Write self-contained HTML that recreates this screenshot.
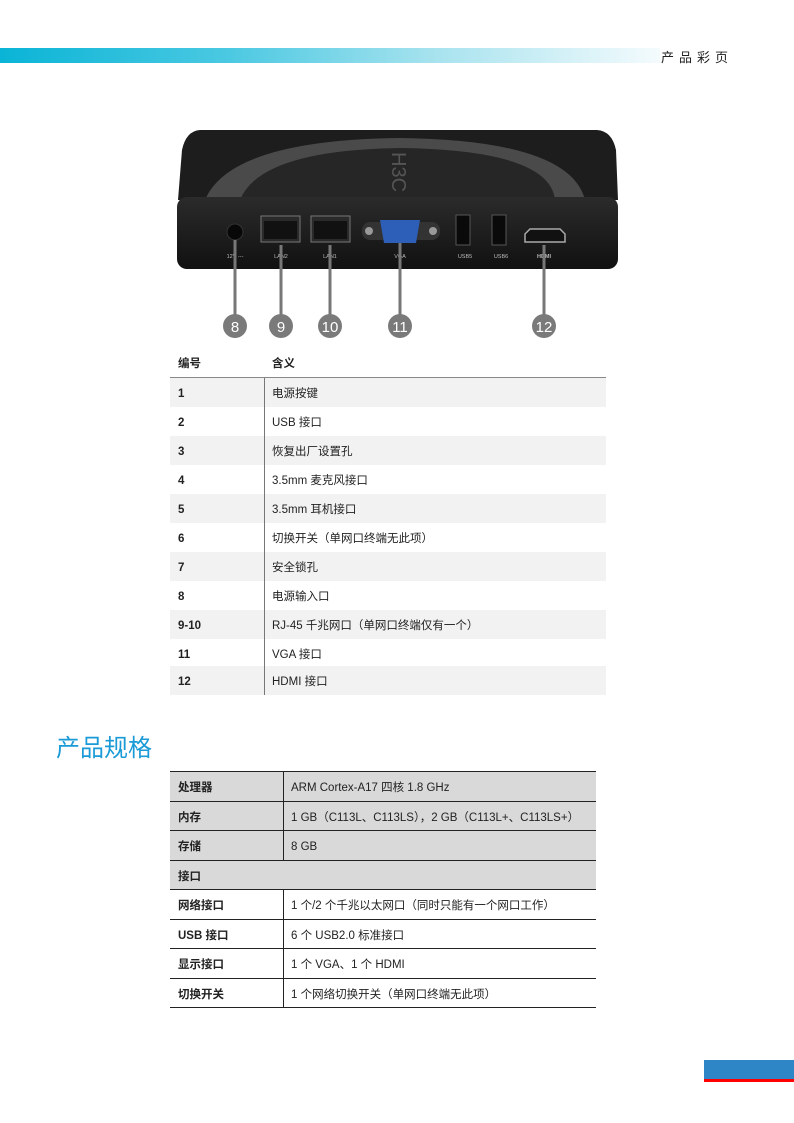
<!DOCTYPE html>
<html><head><meta charset="utf-8"><style>
*{margin:0;padding:0;box-sizing:border-box}
body{width:794px;height:1123px;position:relative;background:#fff;font-family:"Liberation Sans","Noto Sans CJK SC",sans-serif;color:#222;overflow:hidden}
.bar{position:absolute;left:0;top:48px;width:660px;height:15px;background:linear-gradient(90deg,#0ab4d6 0%,#4cc9e2 35%,#a5e2ee 65%,#f4fbfd 100%)}
.hdr{position:absolute;left:661px;top:47px;font-size:13px;letter-spacing:5px;color:#222}
.t1{position:absolute;left:170px;top:352px;width:436px}
.r{position:absolute;left:0;width:436px;height:29px;font-size:11.5px;line-height:32px}
.r .a{position:absolute;left:8px;font-weight:bold}
.r .b{position:absolute;left:102px}
.sh{background:#f2f2f2}
.title{position:absolute;left:56px;top:728px;font-size:24px;color:#1a9ad6}
.t2{position:absolute;left:170px;top:771px;width:426px;border-top:1px solid #222}
.q{position:relative;height:29.5px;border-bottom:1px solid #222;font-size:11.5px;line-height:32px}
.q .a{position:absolute;left:8px;font-weight:bold}
.q .b{position:absolute;left:121px}
.q .d{position:absolute;left:113px;top:0;bottom:0;border-left:1px solid #222}
.g{background:#d9d9d9}
</style></head><body>
<div class="bar"></div>
<div class="hdr">产品彩页</div>

<svg style="position:absolute;left:0;top:0" width="794" height="345">
<defs><linearGradient id="fr" x1="0" y1="0" x2="0" y2="1"><stop offset="0" stop-color="#2b2b2b"/><stop offset="1" stop-color="#111"/></linearGradient></defs>
<path d="M200 130 L597 130 Q612 131 616 150 L618 200 L178 200 L182 150 Q186 131 200 130Z" fill="#1d1d1d"/>
<path d="M205 200 Q230 140 400 138 Q570 140 585 200 Z" fill="#4a4a4a"/>
<path d="M240 200 Q260 150 400 148 Q550 150 555 200 Z" fill="#262626"/>
<text x="0" y="0" fill="#555" font-size="20" transform="translate(392 152) rotate(90)" font-family="Liberation Sans">H3C</text>
<rect x="177" y="197" width="441" height="72" rx="10" fill="url(#fr)"/>
<circle cx="235" cy="232" r="8" fill="#080808" stroke="#333"/>
<rect x="261" y="216" width="39" height="26" fill="#2a2a2a" stroke="#777"/>
<rect x="264" y="221" width="33" height="18" fill="#111"/>
<rect x="311" y="216" width="39" height="26" fill="#2a2a2a" stroke="#777"/>
<rect x="314" y="221" width="33" height="18" fill="#111"/>
<rect x="362" y="222" width="78" height="18" rx="8" fill="#333"/>
<circle cx="369" cy="231" r="4" fill="#999"/><circle cx="433" cy="231" r="4" fill="#999"/>
<path d="M380 220 L420 220 L416 243 L384 243Z" fill="#2d5fb8"/>
<rect x="456" y="215" width="14" height="30" fill="#0a0a0a" stroke="#555"/>
<rect x="492" y="215" width="14" height="30" fill="#0a0a0a" stroke="#555"/>
<path d="M525 234 L530 229 L560 229 L565 234 L565 242 L525 242Z" fill="#111" stroke="#aaa" stroke-width="1.5"/>
<g fill="#bbb" font-size="5.5" font-family="Liberation Sans" text-anchor="middle">
<text x="235" y="258">12V ---</text><text x="281" y="258">LAN2</text><text x="330" y="258">LAN1</text><text x="400" y="258">VGA</text><text x="465" y="258">USB5</text><text x="501" y="258">USB6</text><text x="544" y="258" font-weight="bold">HDMI</text></g>
<g stroke="#777" stroke-width="3">
<line x1="235" y1="240" x2="235" y2="320"/><line x1="281" y1="245" x2="281" y2="320"/><line x1="330" y1="245" x2="330" y2="320"/><line x1="400" y1="243" x2="400" y2="320"/><line x1="544" y1="245" x2="544" y2="320"/></g>
<g fill="#7a7a7a"><circle cx="235" cy="326" r="12"/><circle cx="281" cy="326" r="12"/><circle cx="330" cy="326" r="12"/><circle cx="400" cy="326" r="12"/><circle cx="544" cy="326" r="12"/></g>
<g fill="#fff" font-size="15" font-family="Liberation Sans" text-anchor="middle">
<text x="235" y="332">8</text><text x="281" y="332">9</text><text x="330" y="332">10</text><text x="400" y="332">11</text><text x="544" y="332">12</text></g>
</svg>

<div class="t1">
<div class="r" style="top:0;height:25px;line-height:25px"><span class="a">编号</span><span class="b" style="font-weight:bold">含义</span></div>
<div style="position:absolute;left:0;top:25px;width:436px;border-top:1.5px solid #888"></div>
<div class="r sh" style="top:26px"><span class="a">1</span><span class="b">电源按键</span></div>
<div class="r" style="top:55px"><span class="a">2</span><span class="b">USB 接口</span></div>
<div class="r sh" style="top:84px"><span class="a">3</span><span class="b">恢复出厂设置孔</span></div>
<div class="r" style="top:113px"><span class="a">4</span><span class="b">3.5mm 麦克风接口</span></div>
<div class="r sh" style="top:142px"><span class="a">5</span><span class="b">3.5mm 耳机接口</span></div>
<div class="r" style="top:171px"><span class="a">6</span><span class="b">切换开关（单网口终端无此项）</span></div>
<div class="r sh" style="top:200px"><span class="a">7</span><span class="b">安全锁孔</span></div>
<div class="r" style="top:229px"><span class="a">8</span><span class="b">电源输入口</span></div>
<div class="r sh" style="top:258px"><span class="a">9-10</span><span class="b">RJ-45 千兆网口（单网口终端仅有一个）</span></div>
<div class="r" style="top:287px"><span class="a">11</span><span class="b">VGA 接口</span></div>
<div class="r sh" style="top:314px"><span class="a">12</span><span class="b">HDMI 接口</span></div>
<div style="position:absolute;left:94px;top:26px;height:317px;border-left:1.5px solid #777"></div>
</div>

<div class="title">产品规格</div>

<div class="t2">
<div class="q g"><span class="d"></span><span class="a">处理器</span><span class="b">ARM Cortex-A17 四核 1.8 GHz</span></div>
<div class="q g"><span class="d"></span><span class="a">内存</span><span class="b">1 GB（C113L、C113LS），2 GB（C113L+、C113LS+）</span></div>
<div class="q g"><span class="d"></span><span class="a">存储</span><span class="b">8 GB</span></div>
<div class="q g"><span class="a">接口</span></div>
<div class="q"><span class="d"></span><span class="a">网络接口</span><span class="b">1 个/2 个千兆以太网口（同时只能有一个网口工作）</span></div>
<div class="q"><span class="d"></span><span class="a">USB 接口</span><span class="b">6 个 USB2.0 标准接口</span></div>
<div class="q"><span class="d"></span><span class="a">显示接口</span><span class="b">1 个 VGA、1 个 HDMI</span></div>
<div class="q"><span class="d"></span><span class="a">切换开关</span><span class="b">1 个网络切换开关（单网口终端无此项）</span></div>
</div>

<div style="position:absolute;left:704px;top:1060px;width:90px;height:19px;background:#2f86c6"></div>
<div style="position:absolute;left:704px;top:1079px;width:90px;height:3px;background:#f00"></div>
</body></html>
